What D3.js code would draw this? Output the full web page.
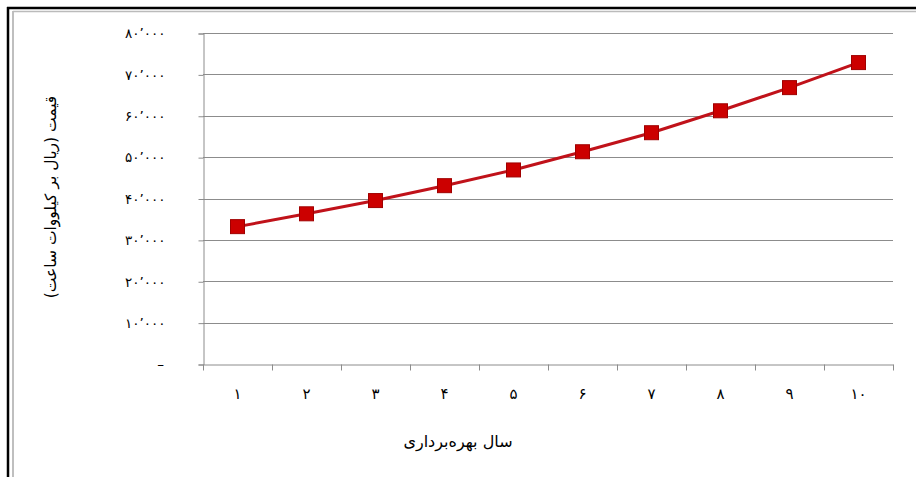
<!DOCTYPE html>
<html><head><meta charset="utf-8">
<script src="https://cdn.jsdelivr.net/npm/d3@7"></script>
<style>
html,body{margin:0;padding:0;background:#fff;}
svg{display:block;}
text{font-family:"DejaVu Sans",sans-serif;}
</style></head>
<body>
<svg id="chart" width="916" height="477"></svg>
<script>
const categories = ["۱","۲","۳","۴","۵","۶","۷","۸","۹","۱۰"];
const values = [33200, 36300, 39500, 43100, 46900, 51300, 55900, 61200, 66800, 72850];
const yTicks = [0, 10000, 20000, 30000, 40000, 50000, 60000, 70000, 80000];
const yTickLabels = ["–","۱۰٬۰۰۰","۲۰٬۰۰۰","۳۰٬۰۰۰","۴۰٬۰۰۰","۵۰٬۰۰۰","۶۰٬۰۰۰","۷۰٬۰۰۰","۸۰٬۰۰۰"];
const yTitle = "قیمت (ریال بر کیلووات ساعت)";
const xTitle = "سال بهره‌برداری";

const svg = d3.select("#chart");
// frame
svg.append("rect").attr("x",0).attr("y",0).attr("width",916).attr("height",477).attr("fill","#fff");
svg.append("line").attr("x1",7).attr("x2",916).attr("y1",8).attr("y2",8).attr("stroke","#000").attr("stroke-width",2.5);
svg.append("line").attr("x1",8).attr("x2",8).attr("y1",7).attr("y2",477).attr("stroke","#000").attr("stroke-width",2.5);
svg.append("line").attr("x1",13).attr("x2",13).attr("y1",11).attr("y2",477).attr("stroke","#aaa").attr("stroke-width",1.5);
svg.append("line").attr("x1",13).attr("x2",916).attr("y1",11.5).attr("y2",11.5).attr("stroke","#bbb").attr("stroke-width",1.5);

const x = d3.scaleBand().domain(categories).range([203, 893]).paddingInner(0).paddingOuter(0);
const y = d3.scaleLinear().domain([0, 80000]).range([364, 33]);

// gridlines
svg.append("g").selectAll("line").data(yTicks.filter(d=>d>0)).join("line")
  .attr("x1",203).attr("x2",893).attr("y1",d=>Math.round(y(d))+0.5).attr("y2",d=>Math.round(y(d))+0.5)
  .attr("stroke","#8c8c8c").attr("stroke-width",1);

// y axis
const yAxis = d3.axisLeft(y).tickValues(yTicks).tickSize(5).tickPadding(0).tickFormat((d,i)=>yTickLabels[i]);
const gy = svg.append("g").attr("transform","translate(203.5,0.5)").call(yAxis);
gy.select(".domain").attr("stroke","#8c8c8c");
gy.selectAll(".tick line").attr("stroke","#8c8c8c");
gy.selectAll(".tick text").attr("x",-38).attr("font-size",13.5).attr("fill","#000").attr("text-anchor","end")
  .attr("letter-spacing",1.5).attr("font-family","DejaVu Sans");

// x axis
const xAxis = d3.axisBottom(x).tickSize(0).tickPadding(24);
const gx = svg.append("g").attr("transform","translate(0,364.5)").call(xAxis);
gx.select(".domain").attr("stroke","#8c8c8c");
gx.selectAll(".tick text").attr("font-size",15).attr("fill","#000").attr("font-family","DejaVu Sans");
// band-edge ticks
const edges = categories.map(c=>x(c)).concat([x.range()[1]]);
gx.append("g").selectAll("line").data(edges).join("line")
  .attr("x1",d=>Math.round(d)+0.5).attr("x2",d=>Math.round(d)+0.5).attr("y1",0).attr("y2",6)
  .attr("stroke","#8c8c8c");

// line
const cx = d => x(d) + x.bandwidth()/2;
const line = d3.line().x((d,i)=>cx(categories[i])).y(d=>y(d));
svg.append("path").datum(values).attr("d",line).attr("fill","none")
  .attr("stroke","#c0121a").attr("stroke-width",3);

// markers
const ms = 14;
svg.append("g").selectAll("rect").data(values).join("rect")
  .attr("x",(d,i)=>cx(categories[i])-ms/2).attr("y",d=>y(d)-ms/2)
  .attr("width",ms).attr("height",ms)
  .attr("fill","#cc0000").attr("stroke","#a00000").attr("stroke-width",1);

// titles
svg.append("text").attr("transform","translate(56,197) rotate(-90)")
  .attr("text-anchor","middle").attr("font-size",15.5).attr("fill","#000")
  .attr("direction","rtl").text(yTitle);
svg.append("text").attr("x",458).attr("y",447)
  .attr("text-anchor","middle").attr("font-size",16).attr("fill","#000")
  .attr("direction","rtl").text(xTitle);
</script>
</body></html>
